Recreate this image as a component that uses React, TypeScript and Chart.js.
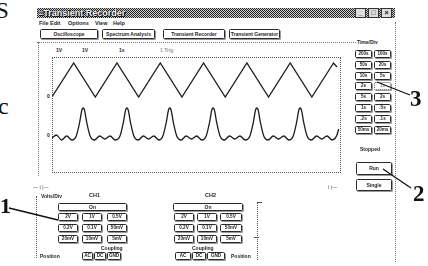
import React, { useEffect, useRef } from "react";
import { Chart, registerables } from "chart.js";

Chart.register(...registerables);

// ---------------- data ----------------
// CH1 triangle trace: vertex times (s) and levels (div)
const triTime = [0, 0.5, 1, 1.5, 2, 2.5, 3, 3.5, 4, 4.5, 5, 5.5, 6, 6.5, 6.58];
const triVolt = [7.5, 10.9, 7.5, 10.9, 7.5, 10.9, 7.5, 10.9, 7.5, 10.9, 7.5, 10.9, 7.5, 10.9, 10.5];

// CH2 pulse trace with ringing baseline
const pulseTime = [
  0, 0.1, 0.22, 0.34, 0.46,
  0.56, 0.64, 0.69, 0.72, 0.75, 0.8, 0.88, 0.98, 1.1, 1.22, 1.34, 1.46,
  1.57, 1.65, 1.7, 1.73, 1.76, 1.81, 1.89, 1.99, 2.11, 2.23, 2.35, 2.47,
  2.56, 2.64, 2.69, 2.72, 2.75, 2.8, 2.88, 2.98, 3.1, 3.22, 3.34, 3.46,
  3.56, 3.64, 3.69, 3.72, 3.75, 3.8, 3.88, 3.98, 4.1, 4.22, 4.34, 4.46,
  4.57, 4.65, 4.7, 4.73, 4.76, 4.81, 4.89, 4.99, 5.11, 5.23, 5.35, 5.47,
  5.57, 5.65, 5.7, 5.73, 5.76, 5.81, 5.89, 5.99, 6.11, 6.23, 6.35, 6.47,
  6.57, 6.62,
];
const pulseVolt = [
  3.4, 3.7, 3.2, 3.6, 3.2,
  3.6, 5.0, 6.2, 6.4, 6.2, 5.0, 3.6, 3.2, 3.6, 3.3, 3.6, 3.2,
  3.6, 5.0, 6.2, 6.4, 6.2, 5.0, 3.6, 3.2, 3.6, 3.3, 3.6, 3.2,
  3.6, 5.0, 6.2, 6.4, 6.2, 5.0, 3.6, 3.2, 3.6, 3.3, 3.6, 3.2,
  3.6, 5.0, 6.2, 6.4, 6.2, 5.0, 3.6, 3.2, 3.6, 3.3, 3.6, 3.2,
  3.6, 5.0, 6.2, 6.4, 6.2, 5.0, 3.6, 3.2, 3.6, 3.3, 3.6, 3.2,
  3.6, 5.0, 6.2, 6.4, 6.2, 5.0, 3.6, 3.2, 3.6, 3.3, 3.6, 3.2,
  3.6, 4.3,
];

const X_MAX = 6.65;
const Y_MAX = 11.5;

// ---------------- text ----------------
const windowTitle = "Transient Recorder";
const menuItems = ["File", "Edit", "Options", "View", "Help"];
const toolbarItems = ["Oscilloscope", "Spectrum Analysis", "Transient Recorder", "Transient Generator"];
const headerLabels = ["1V", "1V", "1s", "1 Trig"];
const timeDivLabels = [
  ["200s", "100s"], ["50s", "20s"], ["10s", "5s"], ["2s", "1s"],
  ["5s", "2s"], ["1s", ".5s"], [".2s", ".1s"], ["50ms", "20ms"],
];
const voltDivLabels = [["2V", "1V", "0.5V"], ["0.2V", "0.1V", "50mV"], ["20mV", "10mV", "5mV"]];
const couplingLabels = ["AC", "DC", "GND"];

// ---------------- layout ----------------
const SANS = "'Liberation Sans', Arial, sans-serif";
const SERIF = "'Liberation Serif', 'Times New Roman', serif";
const INK = "#1e1e1e";

const menuX = [39, 50, 68, 95, 113];
const toolbarBox = [[40, 58], [102, 53], [163, 62], [229, 51]];
const headerX = [56, 82, 119, 160];
const tdColX = [355, 374];
const tdRowY = [50, 61, 72, 82, 93, 104, 115, 126];

function Txt(p: any) {
  const { x, y, size = 5.5, bold = true, color = INK, font = SANS, children, style } = p;
  return (
    <div
      style={{
        position: "absolute", left: x, top: y, fontSize: size, lineHeight: 1,
        fontWeight: bold ? "bold" : "normal", color, fontFamily: font,
        whiteSpace: "nowrap", ...(style || {}),
      }}
    >
      {children}
    </div>
  );
}

function Btn(p: any) {
  const { x, y, w, h, label, size = 5, pressed = false } = p;
  return (
    <div
      style={{
        position: "absolute", left: x, top: y, width: w, height: h, boxSizing: "border-box",
        border: pressed ? "1px dotted #555" : "1px solid #2a2a2a", borderRadius: 1.5,
        boxShadow: "1px 1px 0 #9a9a9a", background: "#fff", fontSize: size,
        lineHeight: `${h - 2}px`, textAlign: "center", fontWeight: "bold",
        color: pressed ? "#888" : INK, fontFamily: SANS, overflow: "hidden", whiteSpace: "nowrap",
      }}
    >
      {label}
    </div>
  );
}

function VLine(p: any) {
  const { x, y1, y2, color = "#777", style = "dotted" } = p;
  return <div style={{ position: "absolute", left: x, top: y1, height: y2 - y1, width: 0, borderLeft: `1px ${style} ${color}` }} />;
}
function HLine(p: any) {
  const { y, x1, x2, color = "#777", style = "dotted" } = p;
  return <div style={{ position: "absolute", left: x1, top: y, width: x2 - x1, height: 0, borderTop: `1px ${style} ${color}` }} />;
}

function Channel(p: any) {
  const { name, nameX, onX, onW, colX, colW, cplLabelX, cplX, cplW, posX, sliderX, sliderY1, sliderY2 } = p;
  return (
    <>
      <Txt x={nameX} y={193}>{name}</Txt>
      <Btn x={onX} y={203} w={onW} h={8} label="On" />
      {voltDivLabels.map((row, r) =>
        row.map((lab, c) => (
          <Btn key={`${r}-${c}`} x={colX[c]} y={213 + r * 11} w={colW[c]} h={8} label={lab} size={4.6} />
        ))
      )}
      <Txt x={cplLabelX} y={246} size={5}>Coupling</Txt>
      {couplingLabels.map((lab, i) => (
        <Btn key={lab} x={cplX[i]} y={252} w={cplW[i]} h={8} label={lab} size={4.6} />
      ))}
      <Txt x={posX} y={254} size={5}>Position</Txt>
      <VLine x={sliderX} y1={sliderY1} y2={sliderY2} color="#555" />
    </>
  );
}

export default function App() {
  const ref = useRef<HTMLCanvasElement>(null);

  useEffect(() => {
    const chart = new Chart(ref.current as HTMLCanvasElement, {
      type: "line",
      data: {
        datasets: [
          {
            data: triTime.map((t, i) => ({ x: t, y: triVolt[i] })),
            borderColor: INK, borderWidth: 1.3, pointRadius: 0, tension: 0,
          },
          {
            data: pulseTime.map((t, i) => ({ x: t, y: pulseVolt[i] })),
            borderColor: INK, borderWidth: 1.3, pointRadius: 0,
            cubicInterpolationMode: "monotone",
          },
        ],
      },
      options: {
        responsive: false,
        animation: false,
        events: [],
        layout: { padding: 0 },
        scales: {
          x: { type: "linear", min: 0, max: X_MAX, display: false },
          y: { type: "linear", min: 0, max: Y_MAX, display: false },
        },
        plugins: { legend: { display: false }, tooltip: { enabled: false } },
      },
    });
    return () => chart.destroy();
  }, []);

  return (
    <div style={{ position: "fixed", left: 0, top: 0, width: 428, height: 266, background: "#fff", overflow: "hidden" }}>
      {/* patent margin letters */}
      <Txt x={-4} y={-1} size={23} bold={false} font={SERIF} color="#111">S</Txt>
      <Txt x={-2} y={94} size={24} bold={false} font={SERIF} color="#111">c</Txt>

      {/* title bar */}
      <div
        style={{
          position: "absolute", left: 37, top: 8, width: 358, height: 10,
          background: "repeating-conic-gradient(#222 0% 25%, #cfcfcf 0% 50%) 0 0 / 2px 2px",
        }}
      />
      <Txt x={38} y={8.5} size={9} color="#fff" style={{ textShadow: "0 0 1px #000, 0 0 1px #000, 1px 1px 0 #000" }}>
        {"\u2261" + windowTitle}
      </Txt>
      {[355, 368, 381].map((x, i) => (
        <div
          key={x}
          style={{
            position: "absolute", left: x, top: 8, width: 11, height: 10, boxSizing: "border-box",
            background: "#ddd", border: "1px solid #333", fontSize: 7, lineHeight: "8px",
            textAlign: "center", fontWeight: "bold", fontFamily: SANS, color: "#111",
          }}
        >
          {["_", "\u25A1", "\u00D7"][i]}
        </div>
      ))}

      {/* menu */}
      {menuItems.map((m, i) => (
        <Txt key={m} x={menuX[i]} y={21}>{m}</Txt>
      ))}

      {/* toolbar */}
      {toolbarItems.map((t, i) => (
        <Btn key={t} x={toolbarBox[i][0]} y={29} w={toolbarBox[i][1]} h={10} label={t} size={5} />
      ))}
      <HLine y={42} x1={37} x2={356} />

      {/* scope area */}
      <VLine x={38} y1={42} y2={176} />
      {headerLabels.map((l, i) => (
        <Txt key={i} x={headerX[i]} y={48} size={5} color={i === 3 ? "#999" : INK}>{l}</Txt>
      ))}
      <Txt x={47} y={94} size={5}>0</Txt>
      <Txt x={47} y={133} size={5}>0</Txt>

      <div style={{ position: "absolute", left: 52, top: 57, width: 288, height: 115 }}>
        <canvas ref={ref} width={288} height={115} style={{ display: "block" }} />
      </div>
      <div
        style={{
          position: "absolute", left: 52, top: 57, width: 289, height: 116, boxSizing: "border-box",
          border: "1px dotted #555", pointerEvents: "none",
        }}
      />
      <Txt x={33} y={185} size={5} bold={false} color="#555">{"\u2014 t |\u2014"}</Txt>
      <Txt x={328} y={185} size={5} bold={false} color="#555">{"t |\u2014"}</Txt>

      {/* time/div panel */}
      <Txt x={357} y={40} size={5}>Time/Div</Txt>
      {timeDivLabels.map((row, r) =>
        row.map((lab, c) => (
          <Btn key={`${r}-${c}`} x={tdColX[c]} y={tdRowY[r]} w={17} h={8} label={lab} size={4.6} pressed={r === 3 && c === 1} />
        ))
      )}
      <Txt x={360} y={147} size={5}>Stopped</Txt>
      <Btn x={356} y={162} w={36} h={13} label="Run" size={5} />
      <Btn x={356} y={179} w={36} h={12} label="Single" size={5} />
      <VLine x={395} y1={22} y2={262} />

      {/* channel panels */}
      <Txt x={41} y={194} size={5}>Volts/Div</Txt>
      <Channel
        name="CH1" nameX={89} onX={58} onW={69} colX={[58, 82, 107]} colW={[20, 20, 20]}
        cplLabelX={101} cplX={[82, 94, 107]} cplW={[11, 12, 14]} posX={40}
        sliderX={36} sliderY1={196} sliderY2={258}
      />
      <Channel
        name="CH2" nameX={205} onX={173} onW={70} colX={[174, 197, 220]} colW={[20, 20, 22]}
        cplLabelX={192} cplX={[175, 192, 207]} cplW={[16, 14, 18]} posX={231}
        sliderX={257} sliderY1={202} sliderY2={260}
      />
      <HLine y={202} x1={257} x2={262} color="#555" style="solid" />
      <HLine y={237} x1={254} x2={259} color="#555" style="solid" />

      {/* reference numerals and leader lines */}
      <svg width={428} height={266} style={{ position: "absolute", left: 0, top: 0, pointerEvents: "none" }}>
        <line x1={9} y1={208} x2={58} y2={220} stroke="#111" strokeWidth={1.3} />
        <line x1={383} y1={169} x2={411} y2={188} stroke="#111" strokeWidth={1.3} />
        <line x1={377} y1={82} x2={410} y2={95} stroke="#111" strokeWidth={1.3} />
      </svg>
      <Txt x={0} y={195} size={22} font={SERIF} color="#111">1</Txt>
      <Txt x={413} y={182} size={23} font={SERIF} color="#111">2</Txt>
      <Txt x={410} y={87} size={23} font={SERIF} color="#111">3</Txt>
    </div>
  );
}
